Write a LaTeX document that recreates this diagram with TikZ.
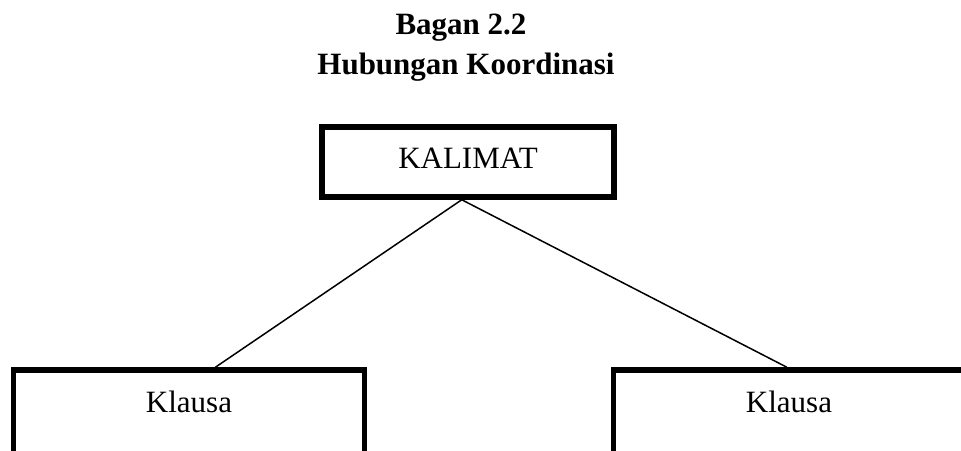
\documentclass[tikz,border=0pt]{standalone}
\usepackage{fontspec}
\setmainfont{Liberation Serif}
\usetikzlibrary{calc}
\begin{document}
\begin{tikzpicture}[x=1pt,y=-1pt,
  box/.style={draw=black, line width=5.5pt, fill=white, inner sep=0pt, minimum height=0pt,
    font=\fontsize{31}{37}\selectfont, anchor=base},
  title/.style={font=\fontsize{31}{37}\selectfont\bfseries, inner sep=0pt, anchor=base},
  link/.style={draw=black, line width=1.5pt}]
\useasboundingbox (0,0) rectangle (961,450);
\clip (0,0) rectangle (961,450);
\fill[white] (0,0) rectangle (961,450);
\node[title] (t1) at (461,34) {Bagan 2.2};
\node[title] (t2) at (466,74) {Hubungan Koordinasi};
\node[box, minimum width=292pt, text height=41pt, text depth=29pt] (kal) at (468,168) {KALIMAT};
\node[box, minimum width=351pt, text height=42pt, text depth=50pt] (k1) at (189,412) {Klausa};
\node[box, minimum width=351pt, text height=42pt, text depth=50pt] (k2) at (789,412) {Klausa};
\coordinate (apex) at ($(kal.south west)!0.479!(kal.south east)$);
\coordinate (e1) at ($(k1.north west)!0.574!(k1.north east)$);
\coordinate (e2) at ($(k2.north west)!0.494!(k2.north east)$);
\draw[link] (apex) -- (e1);
\draw[link] (apex) -- (e2);
\end{tikzpicture}
\end{document}
